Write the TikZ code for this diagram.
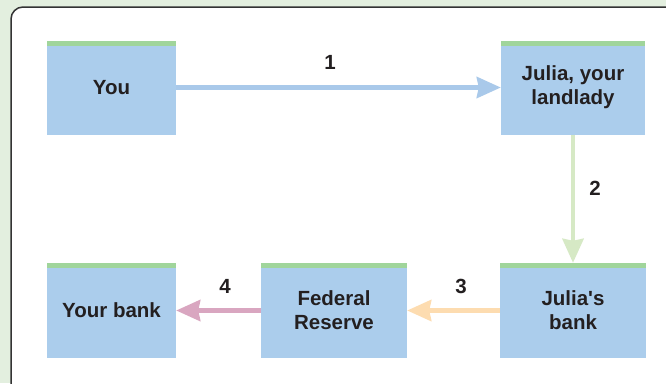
\documentclass[tikz,border=0pt]{standalone}
\usepackage{fontspec}
\setmainfont{Liberation Sans}
\usetikzlibrary{arrows.meta}
\definecolor{bggreen}{HTML}{E3EFDF}
\definecolor{boxblue}{HTML}{ABCDEC}
\definecolor{topgreen}{HTML}{A0D59B}
\definecolor{arrblue}{HTML}{A9C9EA}
\definecolor{arrgreen}{HTML}{D6E9C5}
\definecolor{arrorange}{HTML}{FDDCB0}
\definecolor{arrpink}{HTML}{D9A6C0}
\definecolor{txt}{HTML}{231F20}
\tikzset{
  acct/.style={fill=boxblue, minimum height=94pt, inner sep=0pt, align=center,
    text=txt, font=\fontsize{20.5}{24}\selectfont\bfseries,
    path picture={\fill[topgreen] (path picture bounding box.north west) rectangle ([yshift=-5pt]path picture bounding box.north east);}},
  flow/.style={line width=4.5pt, -{Stealth[length=24pt, width=21pt, inset=2pt]}},
  num/.style={text=txt, font=\fontsize{20.5}{24}\selectfont\bfseries}
}
\begin{document}
\begin{tikzpicture}[x=1pt, y=-1pt]
\useasboundingbox (0,0) rectangle (666,383);
\clip (0,0) rectangle (666,383);
\fill[bggreen] (0,0) rectangle (666,383);
\draw[fill=white, draw=black!80, line width=1.5pt, rounded corners=12pt] (11,7) rectangle (700,420);
\node[acct, minimum width=129pt] (you) at (111.5,87.5){You};
\node[acct, minimum width=144pt] (julia) at (573,87.5){Julia, your\\landlady};
\node[acct, minimum width=146pt, minimum height=95pt] (jbank) at (573,310.5){Julia\textquotesingle s\\bank};
\node[acct, minimum width=146pt, minimum height=95pt] (fed) at (334,310.5){Federal\\Reserve};
\node[acct, minimum width=129pt, minimum height=95pt] (ybank) at (111.5,310.5){Your bank};
\draw[flow, arrblue](you) -- (julia);
\draw[flow, arrgreen](julia) -- (jbank);
\draw[flow, arrorange](jbank) -- (fed);
\draw[flow, arrpink](fed) -- (ybank);
\node[num] (n1) at (330,62){1};
\node[num] (n2) at (595,188){2};
\node[num] (n3) at (461,286){3};
\node[num] (n4) at (225,286){4};
\end{tikzpicture}
\end{document}
